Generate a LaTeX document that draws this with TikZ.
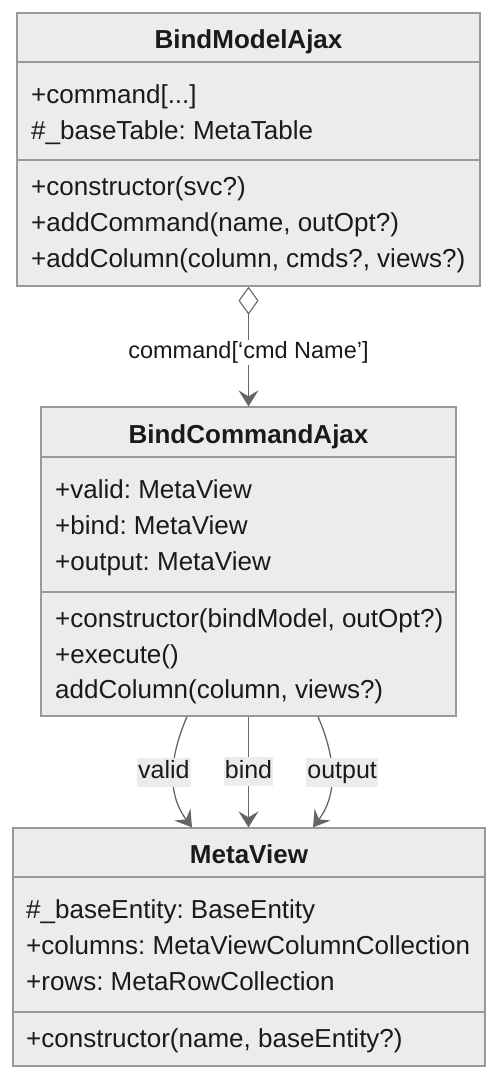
\documentclass[tikz,border=0pt]{standalone}
\usepackage{fontspec}
\setmainfont{Liberation Sans}
\usetikzlibrary{arrows.meta}
\definecolor{boxfill}{HTML}{ECECEC}
\definecolor{boxline}{HTML}{999999}
\definecolor{linkline}{HTML}{666666}
\definecolor{ink}{HTML}{1A1A1A}
\frenchspacing
\begin{document}
\begin{tikzpicture}[x=1pt,y=-1pt,
  classbox/.style={draw=boxline, fill=boxfill, line width=1.3pt, inner sep=0pt},
  divider/.style={draw=boxline, line width=1.3pt},
  title/.style={font=\fontsize{26}{30}\selectfont\bfseries, text=ink, anchor=base, inner sep=0pt},
  member/.style={font=\fontsize{26}{30}\selectfont, text=ink, anchor=base west, inner sep=0pt},
  link/.style={draw=linkline, line width=1.3pt},
  dep/.style={-{Stealth[length=16pt, width=20pt, inset=6pt]}},
  linklabel/.style={font=\fontsize{25}{30}\selectfont, text=ink, fill=boxfill,
    text height=19pt, text depth=6pt, inner xsep=1pt, inner ysep=2pt}
]
\useasboundingbox (0,0) rectangle (500,1084);

% BindModelAjax
\node[classbox, minimum width=463pt, minimum height=273pt] (m1) at (248.5,149.5) {};
\draw[divider] (17,62) -- (480,62);
\draw[divider] (17,160) -- (480,160);
\node[title] (m1t) at (248.5,48) {BindModelAjax};
\node[member] (m1a) at (31,103) {+command[...]};
\node[member] (m1b) at (31,139) {\#\_baseTable: MetaTable};
\node[member] (m1c) at (31,195) {+constructor(svc?)};
\node[member] (m1d) at (31,231) {+addCommand(name, outOpt?)};
\node[member] (m1e) at (31,267) {+addColumn(column, cmds?, views?)};

% BindCommandAjax
\node[classbox, minimum width=415pt, minimum height=309pt] (m2) at (248.5,561.5) {};
\draw[divider] (41,457) -- (456,457);
\draw[divider] (41,592) -- (456,592);
\node[title] (m2t) at (248.5,443) {BindCommandAjax};
\node[member] (m2a) at (55,498) {+valid: MetaView};
\node[member] (m2b) at (55,534) {+bind: MetaView};
\node[member] (m2c) at (55,570) {+output: MetaView};
\node[member] (m2d) at (55,627) {+constructor(bindModel, outOpt?)};
\node[member] (m2e) at (55,663) {+execute()};
\node[member] (m2f) at (55,698) {addColumn(column, views?)};

% MetaView
\node[classbox, minimum width=472pt, minimum height=238pt] (m3) at (249,947) {};
\draw[divider] (13,877) -- (485,877);
\draw[divider] (13,1012) -- (485,1012);
\node[title] (m3t) at (249,863) {MetaView};
\node[member] (m3a) at (26,918) {\#\_baseEntity: BaseEntity};
\node[member] (m3b) at (26,954) {+columns: MetaViewColumnCollection};
\node[member] (m3c) at (26,990) {+rows: MetaRowCollection};
\node[member] (m3d) at (26,1047) {+constructor(name, baseEntity?)};

% aggregation: BindModelAjax -> BindCommandAjax
\draw[link, {Diamond[open, length=28pt, width=20pt, line width=1.1pt]}-{Stealth[length=16pt, width=20pt, inset=6pt]}]
  (m1.south) -- (m2.north)
  node[pos=0.55, font=\fontsize{23.5}{28}\selectfont, text=ink, fill=white, inner xsep=1pt, inner ysep=2pt] (lcmd) {command[‘cmd Name’]};

% dependencies: BindCommandAjax -> MetaView
\draw[link, dep] ([xshift=-61.5pt]m2.south) .. controls +(-19,44) and +(-24,-32) .. ([xshift=-57pt]m3.north)
  node[linklabel, pos=0.5, xshift=-9.5pt, yshift=4.5pt] (lvalid) {valid};
\draw[link, dep] (m2.south) -- (m2.south |- m3.north)
  node[linklabel, pos=0.5, yshift=0.5pt] (lbind) {bind};
\draw[link, dep] ([xshift=69.5pt]m2.south) .. controls +(19,44) and +(24,-32) .. ([xshift=64pt]m3.north)
  node[linklabel, pos=0.5, xshift=10.5pt, yshift=4.5pt] (loutput) {output};
\end{tikzpicture}
\end{document}
